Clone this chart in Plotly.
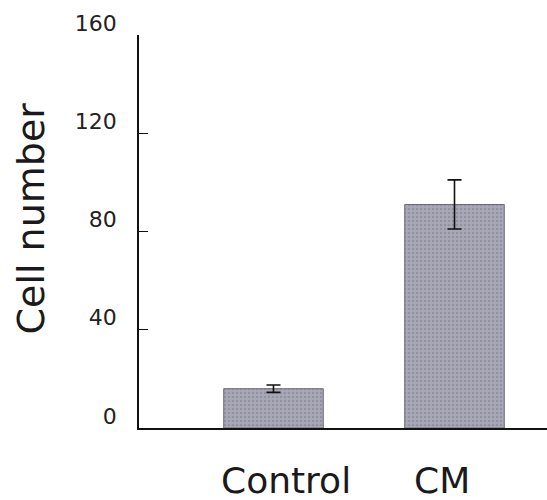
import plotly.graph_objects as go

categories = ["Control", "CM"]
cell_number = [16, 91]
error = [1.5, 10]
y_ticks = [0, 40, 80, 120, 160]

x_pos = list(range(len(categories)))

fig = go.Figure()
fig.add_trace(go.Bar(
    x=x_pos, y=cell_number, width=0.55,
    marker=dict(
        color="#a2a2b0",
        line=dict(color="#6a6a74", width=1),
        pattern=dict(shape=".", fgcolor="#7c7c8a", bgcolor="#a8a8b6", size=4, solidity=0.35),
    ),
    error_y=dict(type="data", array=error, visible=True, color="#111111", thickness=1.6, width=7),
    showlegend=False,
))

fig.update_layout(
    width=547, height=500,
    margin=dict(l=139, r=0, t=35, b=72),
    paper_bgcolor="white", plot_bgcolor="white",
    font=dict(family="DejaVu Sans", color="#222222"),
    xaxis=dict(range=[-0.743, 1.511], showticklabels=False, showgrid=False, zeroline=False,
               showline=True, linecolor="#111111", linewidth=2, ticks=""),
    yaxis=dict(range=[0, 160], tickvals=y_ticks, ticktext=[str(v) for v in y_ticks],
               showgrid=False, zeroline=False, showline=True, linecolor="#111111", linewidth=1.5,
               ticks="inside", ticklen=9, tickwidth=1.3, tickcolor="#111111",
               tickfont=dict(size=22, color="#222222"), ticklabelstandoff=16, ticklabelshift=-12),
)

shifts = [13, -13]
for i, (c, s) in enumerate(zip(categories, shifts)):
    fig.add_annotation(x=x_pos[i], y=0, xref="x", yref="y", text=c, showarrow=False,
                       yanchor="top", yshift=-30, xshift=s,
                       font=dict(size=36, color="#1a1a1a", family="DejaVu Sans"))

fig.add_annotation(x=0, y=0.5, xref="paper", yref="paper", text="Cell number", showarrow=False,
                   textangle=-90, xanchor="center", yanchor="middle", xshift=-109, yshift=13,
                   font=dict(size=38, color="#1a1a1a", family="DejaVu Sans"))

fig.write_html("out.html", config={"displayModeBar": False},
               post_script="document.body.style.margin='0';")
